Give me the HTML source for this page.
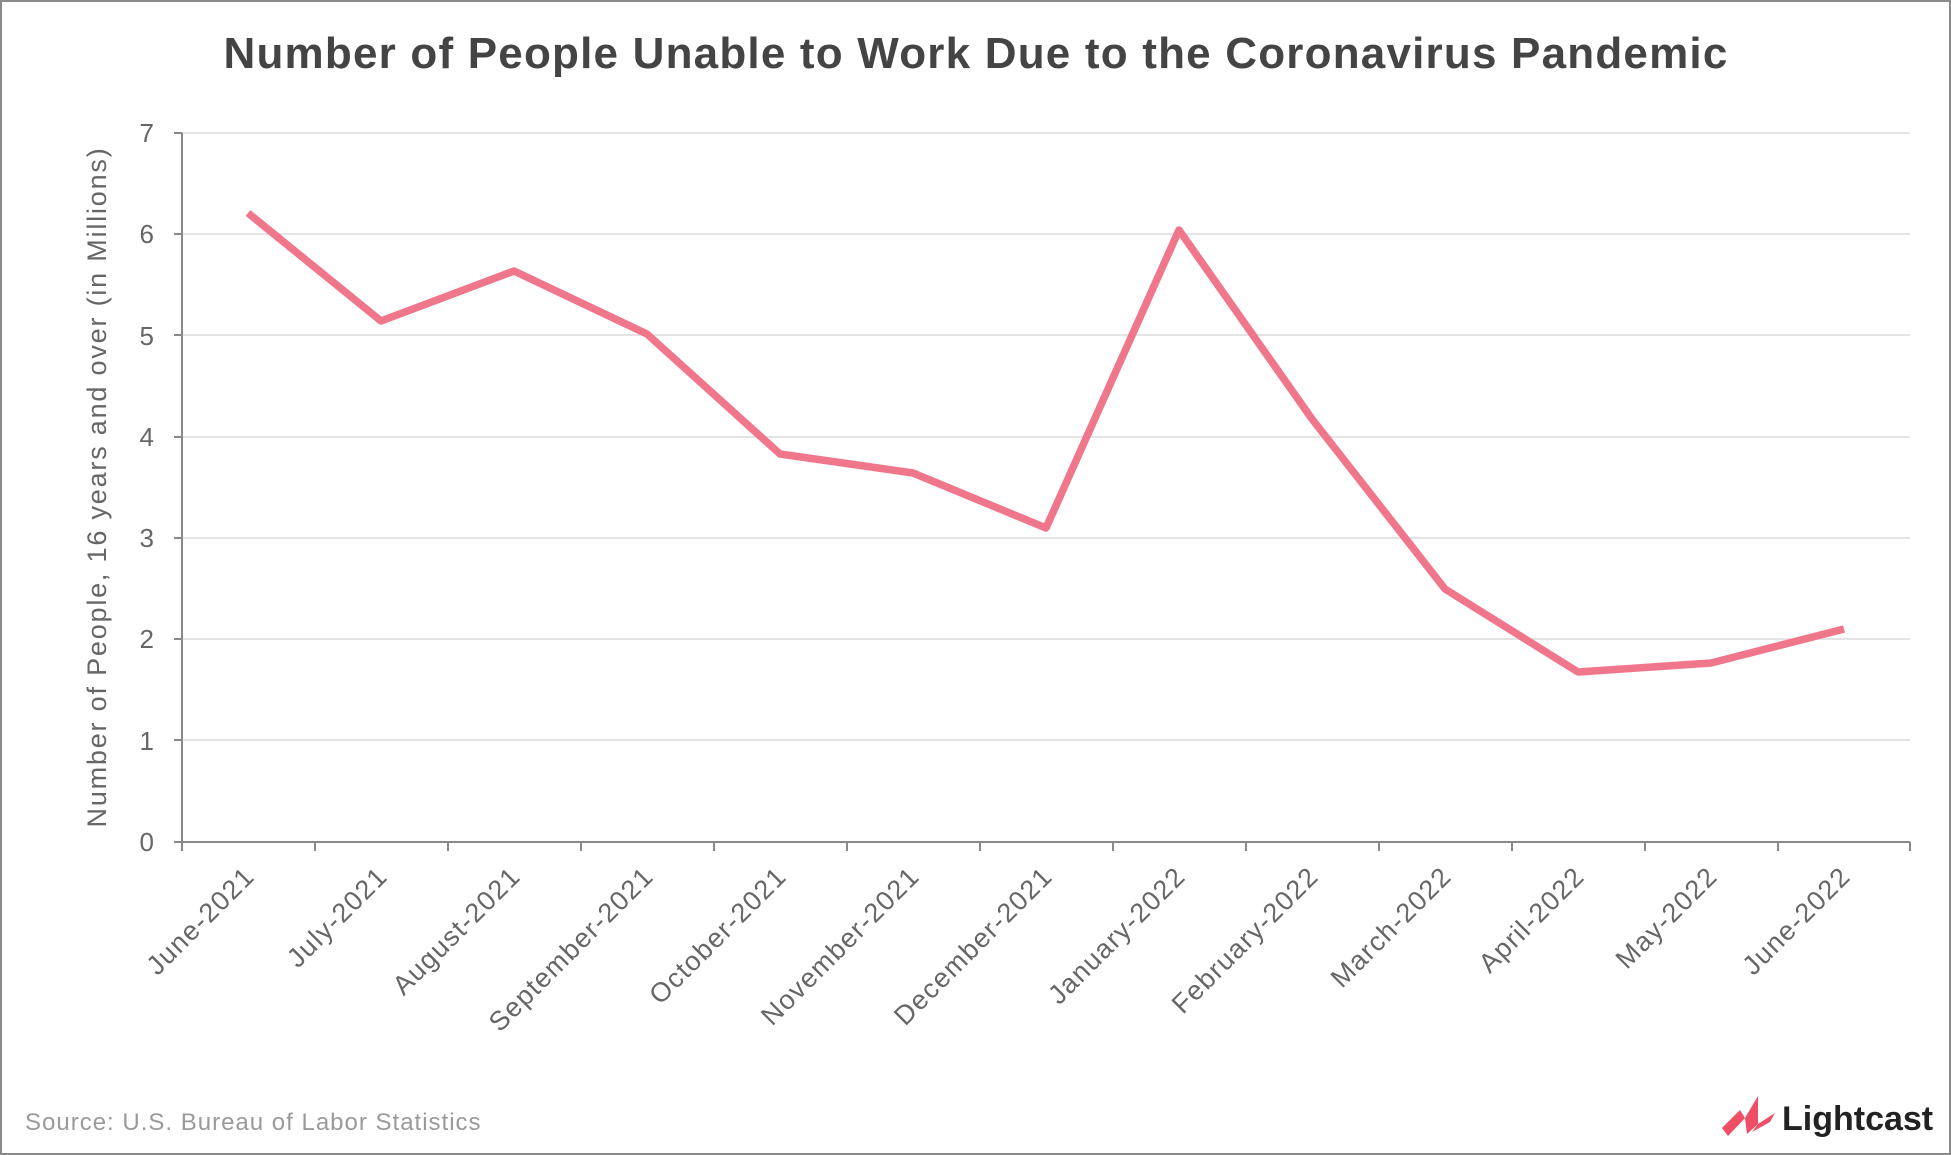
<!DOCTYPE html>
<html><head><meta charset="utf-8"><style>
html,body{margin:0;padding:0;background:#fff}
svg{display:block}
text{font-family:"Liberation Sans","DejaVu Sans",sans-serif}
</style></head><body>
<svg width="1951" height="1155" viewBox="0 0 1951 1155" xmlns="http://www.w3.org/2000/svg">
<rect x="1" y="1" width="1949" height="1153" fill="#fff" stroke="#8a8a8a" stroke-width="2"/>
<text x="976" y="68" text-anchor="middle" font-size="44" font-weight="bold" fill="#444" letter-spacing="1.2">Number of People Unable to Work Due to the Coronavirus Pandemic</text>
<g stroke="#dcdcdc" stroke-width="1.5">
<line x1="182" x2="1910" y1="133" y2="133"/>
<line x1="182" x2="1910" y1="234" y2="234"/>
<line x1="182" x2="1910" y1="335" y2="335"/>
<line x1="182" x2="1910" y1="437" y2="437"/>
<line x1="182" x2="1910" y1="538" y2="538"/>
<line x1="182" x2="1910" y1="639" y2="639"/>
<line x1="182" x2="1910" y1="740" y2="740"/>
</g>
<g stroke="#888" stroke-width="2">
<line x1="182" x2="182" y1="133" y2="842"/>
<line x1="174" x2="1910" y1="842" y2="842"/>
<line x1="174" x2="182" y1="133" y2="133"/>
<line x1="174" x2="182" y1="234" y2="234"/><line x1="174" x2="182" y1="335" y2="335"/><line x1="174" x2="182" y1="437" y2="437"/><line x1="174" x2="182" y1="538" y2="538"/><line x1="174" x2="182" y1="639" y2="639"/><line x1="174" x2="182" y1="740" y2="740"/>
<path d="M182 842v9M315 842v9M448 842v9M581 842v9M714 842v9M847 842v9M980 842v9M1113 842v9M1246 842v9M1379 842v9M1512 842v9M1645 842v9M1778 842v9M1910 842v9"/>
</g>
<g font-size="26" fill="#666" text-anchor="end">
<text x="154" y="851">0</text><text x="154" y="750">1</text><text x="154" y="648">2</text><text x="154" y="547">3</text><text x="154" y="446">4</text><text x="154" y="345">5</text><text x="154" y="243">6</text><text x="154" y="142">7</text>
</g>
<text transform="translate(106,487) rotate(-90)" text-anchor="middle" font-size="27" fill="#666" letter-spacing="1.8">Number of People, 16 years and over (in Millions)</text>
<g font-size="27" fill="#666" text-anchor="end" letter-spacing="1.3">
<text transform="translate(256,878) rotate(-45)">June-2021</text>
<text transform="translate(389,878) rotate(-45)">July-2021</text>
<text transform="translate(522,878) rotate(-45)">August-2021</text>
<text transform="translate(655,878) rotate(-45)">September-2021</text>
<text transform="translate(788,878) rotate(-45)">October-2021</text>
<text transform="translate(921,878) rotate(-45)">November-2021</text>
<text transform="translate(1054,878) rotate(-45)">December-2021</text>
<text transform="translate(1187,878) rotate(-45)">January-2022</text>
<text transform="translate(1320,878) rotate(-45)">February-2022</text>
<text transform="translate(1453,878) rotate(-45)">March-2022</text>
<text transform="translate(1586,878) rotate(-45)">April-2022</text>
<text transform="translate(1719,878) rotate(-45)">May-2022</text>
<text transform="translate(1852,878) rotate(-45)">June-2022</text>
</g>
<polyline fill="none" stroke="#f0768b" stroke-width="7.5" stroke-linejoin="round" points="248,213 381,321 514,271 647,334 780,454 913,473 1046,528 1179,230 1312,419 1445,589 1578,672 1711,663 1844,629"/>
<text x="25" y="1130" font-size="24" fill="#9a9a9a" letter-spacing="1">Source:  U.S. Bureau of Labor Statistics</text>
<polygon points="1722,1128 1740,1110 1745,1118 1728,1136" fill="#f04d66"/>
<polygon points="1745,1118 1758,1096 1758,1124 1747,1134" fill="#f04d66"/>
<polygon points="1758,1124 1775,1113 1770,1122 1752,1132" fill="#f04d66"/>
<text x="1782" y="1130" font-size="34" font-weight="bold" fill="#222">Lightcast</text>
</svg>
</body></html>
